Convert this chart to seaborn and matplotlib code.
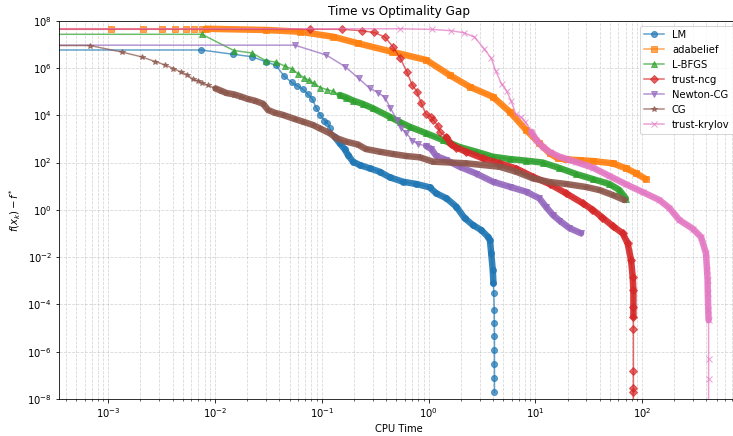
import numpy as np
import matplotlib
matplotlib.use("Agg")
import matplotlib.pyplot as plt
from matplotlib.ticker import NullLocator
import seaborn as sns

# ---- benchmark results: CPU time [s] vs optimality gap f(x_k) - f* ----
methods = ["LM", "adabelief", "L-BFGS", "trust-ncg", "Newton-CG", "CG", "trust-krylov"]

lm_time = [0.0, 7.41e-3, 1.48e-2, 2.22e-2, 2.99e-2, 3.71e-2, 4.43e-2, 5.22e-2, 5.91e-2, 6.67e-2,
           7.43e-2, 8.13e-2, 8.89e-2, 9.70e-2, 0.106, 0.113, 0.119, 0.132, 0.147, 0.164,
           0.176, 0.196, 0.226, 0.281, 0.348, 0.432, 0.575, 0.768, 1.02, 1.18,
           1.47, 1.82, 2.17, 2.60, 3.11, 3.59, 3.75, 3.86, 3.99, 4.05,
           4.08, 4.12, 4.13, 4.14, 4.14, 4.14, 4.14, 4.14]
lm_gap = [5.77e6, 5.77e6, 3.79e6, 3.00e6, 1.84e6, 1.30e6, 4.58e5, 2.48e5, 1.73e5, 1.25e5,
          7.71e4, 5.02e4, 1.97e4, 1.03e4, 5.89e3, 4.84e3, 2.81e3, 1.24e3, 652, 363,
          208, 109, 78.7, 57.0, 41.0, 23.8, 15.5, 12.4, 8.97, 5.00,
          3.07, 1.36, 0.45, 0.228, 0.140, 0.0730, 0.0528, 0.0145, 2.84e-3, 7.80e-4,
          2.94e-4, 5.78e-5, 1.58e-5, 4.59e-6, 1.17e-6, 3.01e-7, 7.91e-8, 1.91e-8]

ada_time = [0.0, 1.06e-3, 2.12e-3, 3.20e-3, 4.26e-3, 5.30e-3, 6.37e-3, 7.48e-3, 8.15e-3, 3.03e-2,
            6.21e-2, 0.127, 0.217, 0.451, 0.950, 1.57, 2.42, 3.99, 5.73, 8.20,
            10.9, 13.6, 16.2, 19.4, 25.9, 34.4, 53.0, 70.6, 87.7, 108]
ada_gap = [4.59e7, 4.59e7, 4.59e7, 4.59e7, 4.59e7, 4.59e7, 4.59e7, 4.59e7, 4.57e7, 4.04e7,
           3.43e7, 2.11e7, 1.11e7, 4.88e6, 2.18e6, 5.05e5, 1.61e5, 6.10e4, 1.42e4, 2.38e3,
           652, 246, 151, 137, 126, 116, 92.9, 57.0, 35.1, 20.1]

lbfgs_time = [0.0, 7.52e-3, 1.50e-2, 2.23e-2, 2.99e-2, 3.71e-2, 4.50e-2, 5.22e-2, 5.98e-2, 6.84e-2,
              7.53e-2, 8.39e-2, 9.66e-2, 0.111, 0.127, 0.147, 0.170, 0.196, 0.243, 0.301,
              0.432, 0.536, 0.664, 0.950, 1.36, 1.95, 2.79, 3.99, 5.73, 8.20,
              11.7, 16.8, 24.1, 34.4, 49.3, 61.2, 70.4]
lbfgs_gap = [2.66e7, 2.66e7, 5.49e6, 4.30e6, 2.03e6, 1.79e6, 1.21e6, 9.06e5, 5.84e5, 3.77e5,
             3.10e5, 2.25e5, 1.49e5, 1.23e5, 1.04e5, 7.19e4, 5.64e4, 4.21e4, 2.99e4, 1.97e4,
             8.69e3, 5.19e3, 3.28e3, 1.73e3, 898, 454, 288, 177, 141, 120,
             100, 58.7, 32.7, 20.1, 12.4, 6.89, 3.01]

tncg_time = [0.0, 7.71e-2, 0.156, 0.236, 0.310, 0.390, 0.463, 0.544, 0.627, 0.702,
             0.780, 0.851, 0.944, 1.06, 1.11, 1.22, 1.27, 1.47, 1.61, 1.82,
             2.25, 3.22, 4.61, 6.61, 9.46, 13.6, 19.4, 27.8, 34.2, 42.4,
             53.0, 65.7, 73.1, 78.7, 81.5, 82.8, 82.8, 82.8, 82.8, 82.8,
             82.8, 82.8, 82.8]
tncg_gap = [4.33e7, 4.33e7, 4.33e7, 3.78e7, 3.17e7, 2.04e7, 7.94e6, 2.57e6, 6.76e5, 1.91e5,
            9.93e4, 3.30e4, 1.13e4, 8.44e3, 6.30e3, 3.51e3, 2.02e3, 1.20e3, 608, 433,
            288, 151, 92.9, 56.0, 25.2, 12.4, 5.00, 1.89, 1.03, 0.473,
            0.207, 0.102, 0.0384, 7.53e-3, 1.48e-3, 4.06e-4, 7.98e-5, 3.01e-5, 8.83e-6, 1.48e-7,
            2.82e-8, 2.02e-8, 0.0]

newton_time = [0.0, 5.59e-2, 0.110, 0.166, 0.221, 0.281, 0.336, 0.390, 0.437, 0.505,
               0.556, 0.618, 0.705, 0.794, 0.950, 1.06, 1.18, 1.47, 1.95, 2.79,
               3.99, 5.73, 8.20, 10.9, 12.6, 14.6, 16.8, 20.8, 26.8]
newton_gap = [9.24e6, 9.24e6, 3.54e6, 1.13e6, 3.66e5, 1.38e5, 9.18e4, 5.64e4, 2.13e4, 6.30e3,
              2.81e3, 1.78e3, 855, 608, 501, 374, 189, 128, 66.7, 34.4,
              15.5, 9.51, 5.84, 3.07, 1.32, 0.604, 0.353, 0.170, 0.102]

cg_time = [0.0, 6.74e-4, 1.36e-3, 2.05e-3, 2.74e-3, 3.43e-3, 4.07e-3, 4.79e-3, 5.47e-3, 6.19e-3,
           6.95e-3, 7.52e-3, 8.61e-3, 1.01e-2, 1.14e-2, 1.28e-2, 1.52e-2, 1.74e-2, 2.03e-2, 2.36e-2,
           2.82e-2, 3.14e-2, 3.62e-2, 4.34e-2, 5.59e-2, 6.67e-2, 8.28e-2, 9.55e-2, 0.119, 0.137,
           0.170, 0.218, 0.258, 0.348, 0.463, 0.618, 0.824, 1.10, 2.25, 4.61,
           6.61, 9.46, 13.6, 19.4, 29.9, 39.8, 53.0, 68.1]
cg_gap = [8.93e6, 8.93e6, 4.65e6, 2.97e6, 1.88e6, 1.34e6, 9.51e5, 6.76e5, 5.30e5, 3.32e5,
          2.90e5, 2.38e5, 1.82e5, 1.36e5, 1.09e5, 8.75e4, 7.55e4, 6.22e4, 4.88e4, 4.13e4,
          3.05e4, 1.67e4, 1.28e4, 1.03e4, 6.95e3, 5.35e3, 3.87e3, 2.81e3, 1.73e3, 1.09e3,
          762, 580, 374, 288, 230, 189, 167, 109, 92.9, 66.7,
          41.0, 21.5, 15.0, 12.4, 9.23, 6.89, 4.24, 2.60]

kry_time = [0.0, 0.536, 1.07, 1.61, 2.13, 2.69, 3.30, 3.86, 4.24, 4.82,
            5.37, 5.94, 6.56, 7.36, 8.05, 9.14, 10.2, 11.7, 13.6, 16.8,
            24.1, 34.4, 49.3, 70.6, 101, 145, 180, 223, 297, 356,
            396, 405, 410, 412, 416, 419, 419, 419, 419]
kry_gap = [4.59e7, 4.55e7, 4.30e7, 3.78e7, 3.11e7, 2.04e7, 6.67e6, 2.57e6, 7.82e5, 2.10e5,
           1.09e5, 4.01e4, 1.13e4, 8.28e3, 5.45e3, 2.02e3, 898, 468, 279, 177,
           105, 61.7, 27.0, 12.0, 5.67, 2.60, 1.19, 0.371, 0.160, 0.0708,
           0.0145, 2.84e-3, 1.07e-3, 2.94e-4, 5.78e-5, 2.18e-5, 4.75e-7, 6.97e-8, 0.0]

series = {
    "LM": (lm_time, lm_gap),
    "adabelief": (ada_time, ada_gap),
    "L-BFGS": (lbfgs_time, lbfgs_gap),
    "trust-ncg": (tncg_time, tncg_gap),
    "Newton-CG": (newton_time, newton_gap),
    "CG": (cg_time, cg_gap),
    "trust-krylov": (kry_time, kry_gap),
}

# ---- styling ----
markers = {"LM": "o", "adabelief": "s", "L-BFGS": "^", "trust-ncg": "D",
           "Newton-CG": "v", "CG": "*", "trust-krylov": "x"}
marker_sizes = {"LM": 6, "adabelief": 6, "L-BFGS": 6, "trust-ncg": 5.5,
                "Newton-CG": 6, "CG": 6, "trust-krylov": 6}
colors = dict(zip(methods, sns.color_palette("tab10", len(methods))))
# stretch where the solver logged every iteration (markers merge into a band):
# (start time, smallest gap still inside the band)
dense_span = {"LM": (0.13, 5e-4), "adabelief": (8e-3, 0.0), "L-BFGS": (0.14, 0.0),
              "trust-ncg": (1.4, 2e-5), "Newton-CG": (0.9, 0.0), "CG": (1.0e-2, 0.0),
              "trust-krylov": (9.0, 2e-5)}

DPI = 72
fig = plt.figure(figsize=(733 / DPI, 436 / DPI), dpi=DPI)
ax = fig.add_axes([59 / 733, 37 / 436, 679.6 / 733, 378.3 / 436])

for name in methods:
    t, g = (np.asarray(v, dtype=float) for v in series[name])
    c = colors[name]
    t0, gmin = dense_span[name]
    band = (t >= t0) & (g >= gmin) & (g > 0)
    sns.lineplot(x=t[band], y=g[band], color=c, linewidth=6.5, alpha=0.9,
                 solid_capstyle="round", solid_joinstyle="round",
                 estimator=None, sort=False, ax=ax)
    sns.lineplot(x=t, y=g, color=c, marker=markers[name], markersize=marker_sizes[name],
                 markeredgecolor=c, markerfacecolor=c, markeredgewidth=1.0,
                 linewidth=1.5, alpha=0.7, label=name,
                 estimator=None, sort=False, ax=ax)

ax.set_xscale("log")
ax.set_yscale("log")
ax.set_xlim(3.46e-4, 800)
ax.set_ylim(1e-8, 1e8)
ax.set_yticks([10.0 ** k for k in range(-8, 9, 2)])
ax.yaxis.set_minor_locator(NullLocator())

ax.grid(True, which="both", linestyle="--", linewidth=0.8, alpha=0.5)
ax.set_axisbelow(True)

ax.set_title("Time vs Optimality Gap")
ax.set_xlabel("CPU Time")
ax.set_ylabel(r"$f(x_k) - f^{*}$")
ax.legend(loc="upper right")

fig.savefig("out.png", dpi=DPI)
